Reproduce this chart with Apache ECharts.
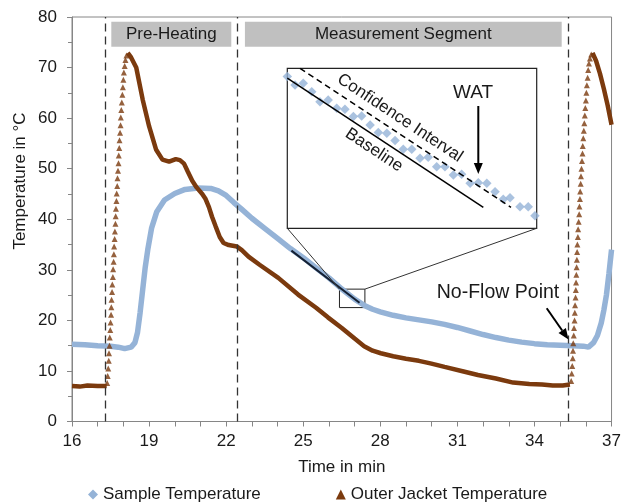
<!DOCTYPE html>
<html><head><meta charset="utf-8">
<script src="https://cdn.jsdelivr.net/npm/echarts@6/dist/echarts.min.js"></script>
<style>html,body{margin:0;padding:0;background:#fff}#c{width:624px;height:503px}</style>
</head><body><div id="c"></div>
<script>
const FONT = "'Liberation Sans', Arial, Helvetica, sans-serif";
const xTickLabels = [16, 19, 22, 25, 28, 31, 34, 37];
const yTickLabels = [0, 10, 20, 30, 40, 50, 60, 70, 80];

const sampleTemperature = [
 [16.0,15.3],[16.5,15.2],[17.0,15.0],[17.5,14.9],[17.8,14.7],[18.05,14.4],[18.3,14.7],[18.45,15.6],
 [18.55,17.6],[18.65,21.5],[18.75,26.0],[18.85,30.5],[18.95,34.0],[19.1,38.3],[19.3,41.5],[19.6,43.8],
 [20.0,45.1],[20.4,45.9],[20.9,46.2],[21.4,46.1],[21.7,45.6],[22.0,44.7],[22.3,43.3],[22.6,42.0],
 [23.0,40.2],[23.5,38.2],[24.0,36.2],[24.5,34.2],[25.0,32.4],[25.5,30.4],[26.0,28.4],[26.5,26.2],
 [27.0,24.2],[27.4,22.9],[27.7,22.2],[28.0,21.7],[28.5,21.0],[29.0,20.5],[29.5,20.1],[30.0,19.7],
 [30.5,19.2],[31.0,18.6],[31.5,17.9],[32.0,17.2],[32.5,16.6],[33.0,16.1],[33.5,15.7],[34.0,15.4],
 [34.5,15.2],[35.0,15.1],[35.5,15.0],[35.9,14.9],[36.1,14.7],[36.3,15.6],[36.45,17.0],[36.6,19.5],
 [36.7,22.0],[36.8,25.0],[36.9,29.3],[37.0,34.0]
];

const jacketBefore = [[16.0,7.0],[16.3,6.9],[16.6,7.1],[17.0,7.0],[17.35,7.0]];
const jacketRise1 = [
 [17.37,7.6],[17.39,9.0],[17.41,10.5],[17.43,12.0],[17.44,13.5],[17.46,15.0],[17.47,16.6],[17.49,18.1],
 [17.50,19.6],[17.52,21.1],[17.53,22.6],[17.54,24.1],[17.56,25.6],[17.57,27.1],[17.59,28.6],[17.60,30.1],
 [17.62,31.6],[17.63,33.1],[17.64,34.6],[17.66,36.1],[17.67,37.6],[17.69,39.1],[17.70,40.6],[17.71,42.1],
 [17.73,43.6],[17.74,45.1],[17.76,46.6],[17.77,48.1],[17.79,49.6],[17.81,51.1],[17.82,52.6],[17.84,54.1],
 [17.85,55.6],[17.87,57.1],[17.89,58.6],[17.90,60.1],[17.92,61.6],[17.94,63.1],[17.96,64.6],[17.98,66.1],
 [18.00,67.6],[18.02,69.0],[18.05,70.3],[18.08,71.5],[18.12,72.4]
];
const jacketMain = [
 [18.17,72.9],[18.3,72.0],[18.5,70.0],[18.75,63.7],[19.0,58.4],[19.27,53.8],[19.52,51.8],[19.78,51.4],
 [20.04,51.9],[20.2,51.7],[20.36,51.0],[20.5,49.5],[20.68,47.6],[20.85,46.3],[21.07,45.0],[21.2,44.0],
 [21.33,42.4],[21.45,40.5],[21.59,38.6],[21.75,36.5],[21.9,35.3],[22.1,34.9],[22.42,34.6],[22.61,33.9],
 [22.87,32.6],[23.3,31.0],[24.03,28.4],[24.8,25.1],[25.5,22.5],[25.96,20.6],[26.5,18.5],[27.0,16.4],
 [27.37,14.9],[27.7,14.0],[28.02,13.5],[28.5,12.9],[29.0,12.4],[29.5,12.0],[29.95,11.5],[30.5,10.8],
 [31.24,9.9],[31.8,9.2],[32.5,8.5],[33.17,7.7],[33.8,7.4],[34.3,7.3],[34.71,7.1],[35.1,7.1],[35.38,7.3]
];
const jacketRise2 = [
 [35.43,8.0],[35.45,9.5],[35.47,11.0],[35.49,12.5],[35.50,14.0],[35.51,15.5],[35.53,17.0],[35.54,18.5],
 [35.56,20.0],[35.57,21.5],[35.58,23.0],[35.60,24.5],[35.61,26.0],[35.62,27.5],[35.63,29.0],[35.64,30.5],
 [35.65,32.0],[35.66,33.5],[35.67,35.0],[35.69,36.5],[35.70,38.0],[35.72,39.5],[35.74,41.0],[35.75,42.5],
 [35.77,44.0],[35.78,45.5],[35.80,47.0],[35.81,48.5],[35.83,50.0],[35.85,51.5],[35.87,53.0],[35.88,54.5],
 [35.90,56.0],[35.92,57.5],[35.94,59.0],[35.96,60.5],[35.98,62.0],[36.00,63.5],[36.02,65.0],[36.04,66.5],
 [36.07,68.0],[36.09,69.5],[36.12,70.8],[36.16,71.8],[36.21,72.6]
];
const jacketEnd = [[36.26,72.9],[36.4,71.3],[36.55,68.8],[36.7,65.8],[36.85,62.5],[37.0,58.7]];

const phaseBoundaries = [17.3, 22.45, 35.33];
const phaseBoxes = [
 {name:'Pre-Heating', from:17.53, to:22.2},
 {name:'Measurement Segment', from:22.73, to:35.06}
];
const phaseBoxTemp = [74.1, 79.05];
const zoomWindow = {t:[26.41, 27.40], T:[22.53, 26.18]};
const baselineFit = [[24.54,33.8],[27.19,23.5]];

// inset (zoomed view), normalised 0..100 in both directions
const insetSample = [
 [0.0,94.8],[3.1,89.6],[6.4,90.6],[9.8,85.4],[13.1,79.1],[16.4,80.2],[19.8,75.0],[23.1,74.4],
 [26.5,69.8],[29.8,70.2],[33.2,64.6],[36.5,59.8],[39.9,59.4],[43.2,54.8],[46.5,49.4],[49.9,49.4],
 [53.2,43.8],[56.5,44.4],[59.9,38.5],[63.2,38.5],[66.6,33.3],[69.9,33.8],[73.3,28.1],[76.6,28.5],
 [80.0,28.1],[83.3,22.9],[86.6,18.1],[89.3,19.1],[93.3,13.5],[96.6,13.5],[99.3,7.9]
];
const insetBaseline = [[0,93.8],[78.6,13.1]];
const insetConfidence = [[5.1,100],[89.7,13.1]];

const BLUE = '#95b3d7', BROWN = '#7b3a0e', AXIS = '#868686', TXT = '#1a1a1a';
const INSET = {left:287.3, top:68.3, width:249.4, height:160};

const chart = echarts.init(document.getElementById('c'), null, {renderer:'canvas'});
const jacketCommon = {name:'Outer Jacket Temperature', type:'line', showSymbol:false, symbol:'triangle',
  lineStyle:{color:BROWN, width:4.5}, itemStyle:{color:BROWN}, z:4, silent:true};

const option = {
  animation:false,
  textStyle:{fontFamily:FONT},
  grid:[
    {left:72, right:8, top:17, bottom:81.5, show:true, borderColor:AXIS, borderWidth:1, backgroundColor:'transparent'},
    {left:INSET.left, top:INSET.top, width:INSET.width, height:INSET.height, show:true, borderColor:'#222', borderWidth:1.2, backgroundColor:'#fff', z:6}
  ],
  xAxis:[
    {type:'value', gridIndex:0, min:xTickLabels[0], max:xTickLabels[xTickLabels.length-1], interval:xTickLabels[1]-xTickLabels[0],
     name:'Time in min', nameLocation:'middle', nameGap:37, nameTextStyle:{fontSize:17, color:TXT, fontFamily:FONT},
     axisLine:{lineStyle:{color:AXIS, width:1}}, axisTick:{show:true, length:5, lineStyle:{color:AXIS}},
     minorTick:{show:true, splitNumber:3, length:5, lineStyle:{color:AXIS}},
     axisLabel:{fontSize:17, color:TXT, margin:11, fontFamily:FONT}, splitLine:{show:false}},
    {type:'value', gridIndex:1, min:0, max:100, show:false}
  ],
  yAxis:[
    {type:'value', gridIndex:0, min:yTickLabels[0], max:yTickLabels[yTickLabels.length-1], interval:yTickLabels[1]-yTickLabels[0],
     axisLine:{show:true, lineStyle:{color:AXIS, width:1}}, axisTick:{show:true, length:5, lineStyle:{color:AXIS}},
     minorTick:{show:true, splitNumber:2, length:4, lineStyle:{color:AXIS}},
     axisLabel:{fontSize:17, color:TXT, margin:15, fontFamily:FONT}, splitLine:{show:false}},
    {type:'value', gridIndex:1, min:0, max:100, show:false}
  ],
  legend:{
    data:[{name:'Sample Temperature', icon:'diamond'},{name:'Outer Jacket Temperature', icon:'triangle'}],
    left:83, top:481, itemWidth:10, itemHeight:10, itemGap:75,
    textStyle:{fontSize:17, color:TXT, fontFamily:FONT}
  },
  series:[
    {name:'Sample Temperature', type:'line', data:sampleTemperature, showSymbol:false, symbol:'diamond',
     lineStyle:{color:BLUE, width:5.5}, itemStyle:{color:BLUE}, z:3, silent:true,
     markLine:{silent:true, symbol:['none','none'], label:{show:false},
       lineStyle:{color:'#333', type:[8,5], width:1.3},
       data: phaseBoundaries.map(v => ({xAxis:v}))},
     markArea:{silent:true, data:[
       ...phaseBoxes.map(b => [
         {name:b.name, coord:[b.from, phaseBoxTemp[1]], itemStyle:{color:'#c0c0c0'},
          label:{show:true, position:'inside', color:TXT, fontSize:17, fontFamily:FONT}},
         {coord:[b.to, phaseBoxTemp[0]]}
       ]),
       [{coord:[zoomWindow.t[0], zoomWindow.T[1]], itemStyle:{color:'rgba(0,0,0,0)', borderColor:'#222', borderWidth:1}, label:{show:false}},
        {coord:[zoomWindow.t[1], zoomWindow.T[0]]}]
     ]}},
    {...jacketCommon, data:jacketBefore},
    {...jacketCommon, data:jacketMain},
    {...jacketCommon, data:jacketEnd},
    {name:'Outer Jacket Temperature', type:'scatter', symbol:'triangle', symbolSize:6,
     itemStyle:{color:BROWN}, data:jacketRise1.concat(jacketRise2), z:4, silent:true},
    {name:'fit', type:'line', data:baselineFit, showSymbol:false, lineStyle:{color:'#142033', width:2}, z:5, silent:true},
    {name:'insetSample', type:'scatter', xAxisIndex:1, yAxisIndex:1, symbol:'diamond', symbolSize:9.5,
     itemStyle:{color:BLUE}, data:insetSample, z:7, silent:true},
    {name:'insetBaseline', type:'line', xAxisIndex:1, yAxisIndex:1, showSymbol:false, data:insetBaseline,
     lineStyle:{color:'#000', width:1.5}, z:8, silent:true},
    {name:'insetConfidence', type:'line', xAxisIndex:1, yAxisIndex:1, showSymbol:false, data:insetConfidence,
     lineStyle:{color:'#000', width:1.5, type:[6,4]}, z:8, silent:true}
  ]
};
chart.setOption(option);

function arrow(x1, y1, x2, y2, head, w) {
  const a = Math.atan2(y2 - y1, x2 - x1);
  const bx = x2 - head * Math.cos(a), by = y2 - head * Math.sin(a);
  return [
    {type:'line', shape:{x1, y1, x2:bx, y2:by}, style:{stroke:'#000', lineWidth:2}, z:100},
    {type:'polygon', shape:{points:[[x2, y2],[bx + w*Math.sin(a), by - w*Math.cos(a)],[bx - w*Math.sin(a), by + w*Math.cos(a)]]},
     style:{fill:'#000'}, z:100}
  ];
}
function txt(x, y, text, size, rot) {
  return {type:'text', x, y, rotation:rot || 0, z:100,
    style:{text, font:size + 'px ' + FONT, fill:TXT, align:'center', verticalAlign:'middle'}};
}
const pTL = chart.convertToPixel({xAxisIndex:0, yAxisIndex:0}, [zoomWindow.t[0], zoomWindow.T[1]]);
const pTR = chart.convertToPixel({xAxisIndex:0, yAxisIndex:0}, [zoomWindow.t[1], zoomWindow.T[1]]);
const iBL = chart.convertToPixel({xAxisIndex:1, yAxisIndex:1}, [0, 0]);
const iBR = chart.convertToPixel({xAxisIndex:1, yAxisIndex:1}, [100, 0]);
const ang = -33.5 * Math.PI / 180;
chart.setOption({graphic:[
  {type:'line', shape:{x1:pTL[0], y1:pTL[1], x2:iBL[0], y2:iBL[1]}, style:{stroke:'#333', lineWidth:1}, z:50},
  {type:'line', shape:{x1:pTR[0], y1:pTR[1], x2:iBR[0], y2:iBR[1]}, style:{stroke:'#333', lineWidth:1}, z:50},
  txt(20, 181, 'Temperature in °C', 17, Math.PI/2),
  txt(400, 118, 'Confidence Interval', 17, ang),
  txt(374, 150, 'Baseline', 17, ang),
  txt(473, 93, 'WAT', 19),
  ...arrow(478.3, 106, 478.3, 174, 11, 4.5),
  txt(498, 293, 'No-Flow Point', 19.5),
  ...arrow(546.7, 308.3, 568.5, 339.5, 11, 4.5)
]});
</script>
</body></html>
